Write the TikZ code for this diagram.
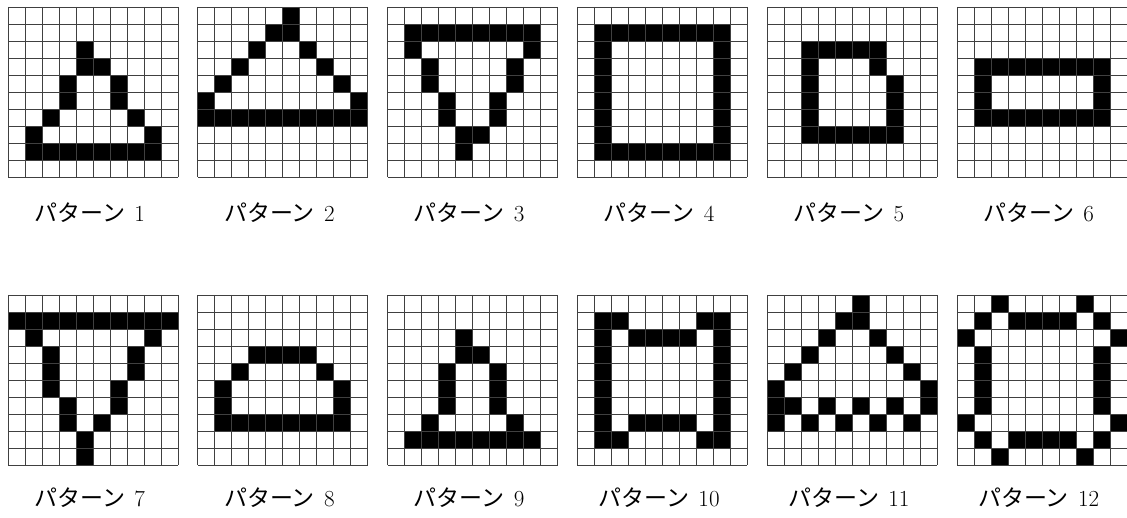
\documentclass[tikz,border=0pt]{standalone}
\usepackage{fontspec}
\newfontfamily\jpfont{Noto Sans CJK JP}
\usepackage{tikz}
\usetikzlibrary{calc}

\tikzset{
  gridline/.style={draw=black!75,line width=0.7pt},
  cell/.style={fill=black},
  patlabel/.style={font=\fontsize{23}{27}\selectfont,inner sep=0pt}
}

\begin{document}
\begin{tikzpicture}[x=1pt,y=-1pt]

    % Rahmen der ganzen Abbildung
    \useasboundingbox (0,0) rectangle (1127,518);

    % Muster 1
    \begin{scope}[shift={(8,7)},x=17pt,y=-17pt]
    \foreach \a/\b/\c/\d in {4/2/4/2,4/3/5/3,3/4/3/5,6/4/6/5,2/6/2/6,7/6/7/6,1/7/1/7,8/7/8/7,1/8/8/8}
        \fill[cell] (\a,\b) rectangle ({\c+1},{\d+1});
    \foreach \i in {0,...,10} {\draw[gridline] (\i,0)--(\i,10); \draw[gridline] (0,\i)--(10,\i);}
    \node[patlabel] (lab1) at (4.8,12.1) {{\jpfont パターン}\hspace{0.4em}1};
    \end{scope}

    % Muster 2
    \begin{scope}[shift={(197.8,7)},x=17pt,y=-17pt]
    \foreach \a/\b/\c/\d in {5/0/5/0,4/1/5/1,3/2/3/2,6/2/6/2,2/3/2/3,7/3/7/3,1/4/1/4,8/4/8/4,0/5/0/5,9/5/9/5,0/6/9/6}
        \fill[cell] (\a,\b) rectangle ({\c+1},{\d+1});
    \foreach \i in {0,...,10} {\draw[gridline] (\i,0)--(\i,10); \draw[gridline] (0,\i)--(10,\i);}
    \node[patlabel] (lab2) at (4.8,12.1) {{\jpfont パターン}\hspace{0.4em}2};
    \end{scope}

    % Muster 3
    \begin{scope}[shift={(387.6,7)},x=17pt,y=-17pt]
    \foreach \a/\b/\c/\d in {1/1/8/1,1/2/1/2,8/2/8/2,2/3/2/4,7/3/7/4,3/5/3/6,6/5/6/6,4/7/5/7,4/8/4/8}
        \fill[cell] (\a,\b) rectangle ({\c+1},{\d+1});
    \foreach \i in {0,...,10} {\draw[gridline] (\i,0)--(\i,10); \draw[gridline] (0,\i)--(10,\i);}
    \node[patlabel] (lab3) at (4.8,12.1) {{\jpfont パターン}\hspace{0.4em}3};
    \end{scope}

    % Muster 4
    \begin{scope}[shift={(577.4,7)},x=17pt,y=-17pt]
    \foreach \a/\b/\c/\d in {1/1/8/1,1/8/8/8,1/2/1/7,8/2/8/7}
        \fill[cell] (\a,\b) rectangle ({\c+1},{\d+1});
    \foreach \i in {0,...,10} {\draw[gridline] (\i,0)--(\i,10); \draw[gridline] (0,\i)--(10,\i);}
    \node[patlabel] (lab4) at (4.8,12.1) {{\jpfont パターン}\hspace{0.4em}4};
    \end{scope}

    % Muster 5
    \begin{scope}[shift={(767.2,7)},x=17pt,y=-17pt]
    \foreach \a/\b/\c/\d in {2/2/6/2,2/3/2/6,6/3/6/3,7/4/7/6,2/7/7/7}
        \fill[cell] (\a,\b) rectangle ({\c+1},{\d+1});
    \foreach \i in {0,...,10} {\draw[gridline] (\i,0)--(\i,10); \draw[gridline] (0,\i)--(10,\i);}
    \node[patlabel] (lab5) at (4.8,12.1) {{\jpfont パターン}\hspace{0.4em}5};
    \end{scope}

    % Muster 6
    \begin{scope}[shift={(957,7)},x=17pt,y=-17pt]
    \foreach \a/\b/\c/\d in {1/3/8/3,1/6/8/6,1/4/1/5,8/4/8/5}
        \fill[cell] (\a,\b) rectangle ({\c+1},{\d+1});
    \foreach \i in {0,...,10} {\draw[gridline] (\i,0)--(\i,10); \draw[gridline] (0,\i)--(10,\i);}
    \node[patlabel] (lab6) at (4.8,12.1) {{\jpfont パターン}\hspace{0.4em}6};
    \end{scope}

    % Muster 7
    \begin{scope}[shift={(8,295)},x=17pt,y=-17pt]
    \foreach \a/\b/\c/\d in {0/1/9/1,1/2/1/2,8/2/8/2,2/3/2/5,7/3/7/4,6/5/6/6,3/6/3/7,5/7/5/7,4/8/4/9}
        \fill[cell] (\a,\b) rectangle ({\c+1},{\d+1});
    \foreach \i in {0,...,10} {\draw[gridline] (\i,0)--(\i,10); \draw[gridline] (0,\i)--(10,\i);}
    \node[patlabel] (lab7) at (4.8,11.9) {{\jpfont パターン}\hspace{0.4em}7};
    \end{scope}

    % Muster 8
    \begin{scope}[shift={(197.8,295)},x=17pt,y=-17pt]
    \foreach \a/\b/\c/\d in {3/3/6/3,2/4/2/4,7/4/7/4,1/5/1/6,8/5/8/6,1/7/8/7}
        \fill[cell] (\a,\b) rectangle ({\c+1},{\d+1});
    \foreach \i in {0,...,10} {\draw[gridline] (\i,0)--(\i,10); \draw[gridline] (0,\i)--(10,\i);}
    \node[patlabel] (lab8) at (4.8,11.9) {{\jpfont パターン}\hspace{0.4em}8};
    \end{scope}

    % Muster 9
    \begin{scope}[shift={(387.6,295)},x=17pt,y=-17pt]
    \foreach \a/\b/\c/\d in {4/2/4/2,4/3/5/3,3/4/3/6,6/4/6/6,2/7/2/7,7/7/7/7,1/8/8/8}
        \fill[cell] (\a,\b) rectangle ({\c+1},{\d+1});
    \foreach \i in {0,...,10} {\draw[gridline] (\i,0)--(\i,10); \draw[gridline] (0,\i)--(10,\i);}
    \node[patlabel] (lab9) at (4.8,11.9) {{\jpfont パターン}\hspace{0.4em}9};
    \end{scope}

    % Muster 10
    \begin{scope}[shift={(577.4,295)},x=17pt,y=-17pt]
    \foreach \a/\b/\c/\d in {1/1/2/1,7/1/8/1,1/2/1/7,8/2/8/7,3/2/6/2,3/7/6/7,1/8/2/8,7/8/8/8}
        \fill[cell] (\a,\b) rectangle ({\c+1},{\d+1});
    \foreach \i in {0,...,10} {\draw[gridline] (\i,0)--(\i,10); \draw[gridline] (0,\i)--(10,\i);}
    \node[patlabel] (lab10) at (4.8,11.9) {{\jpfont パターン}\hspace{0.4em}10};
    \end{scope}

    % Muster 11
    \begin{scope}[shift={(767.2,295)},x=17pt,y=-17pt]
    \foreach \a/\b/\c/\d in {5/0/5/0,4/1/5/1,3/2/3/2,6/2/6/2,2/3/2/3,7/3/7/3,1/4/1/4,8/4/8/4,0/5/0/7,9/5/9/6,
                             1/6/1/6,3/6/3/6,5/6/5/6,7/6/7/6,2/7/2/7,4/7/4/7,6/7/6/7,8/7/8/7}
        \fill[cell] (\a,\b) rectangle ({\c+1},{\d+1});
    \foreach \i in {0,...,10} {\draw[gridline] (\i,0)--(\i,10); \draw[gridline] (0,\i)--(10,\i);}
    \node[patlabel] (lab11) at (4.8,11.9) {{\jpfont パターン}\hspace{0.4em}11};
    \end{scope}

    % Muster 12
    \begin{scope}[shift={(957,295)},x=17pt,y=-17pt]
    \foreach \a/\b/\c/\d in {2/0/2/0,7/0/7/0,1/1/1/1,3/1/6/1,8/1/8/1,0/2/0/2,9/2/9/2,1/3/1/6,8/3/8/6,
                             0/7/0/7,9/7/9/7,1/8/1/8,3/8/6/8,8/8/8/8,2/9/2/9,7/9/7/9}
        \fill[cell] (\a,\b) rectangle ({\c+1},{\d+1});
    \foreach \i in {0,...,10} {\draw[gridline] (\i,0)--(\i,10); \draw[gridline] (0,\i)--(10,\i);}
    \node[patlabel] (lab12) at (4.8,11.9) {{\jpfont パターン}\hspace{0.4em}12};
    \end{scope}

\end{tikzpicture}
\end{document}
